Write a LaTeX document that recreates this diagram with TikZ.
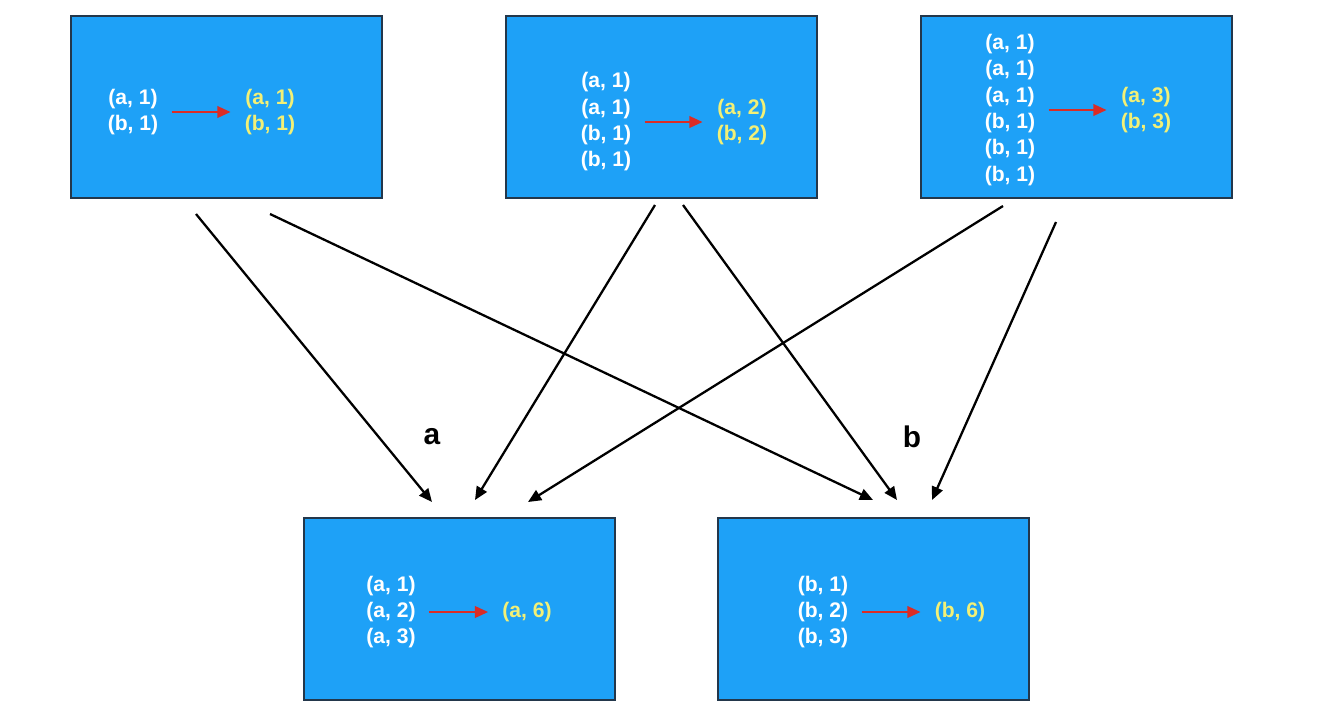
\documentclass[tikz,border=0pt]{standalone}
\usepackage{fontspec}
\setmainfont{Liberation Sans}
\usetikzlibrary{arrows.meta}
\definecolor{boxblue}{RGB}{30,161,247}
\definecolor{boxline}{RGB}{35,55,75}
\definecolor{sumyellow}{RGB}{242,240,118}
\definecolor{arrowred}{RGB}{218,44,38}

\begin{document}
\begin{tikzpicture}[x=0.02cm,y=-0.02cm,>={Triangle[length=7.5pt,width=6.5pt]},
        block/.style={draw=boxline, line width=0.9pt, fill=boxblue, rectangle, minimum width=6.22cm, minimum height=3.64cm, inner sep=0},
        pairs/.style={text=white, font=\fontsize{12}{15}\selectfont\bfseries, align=center, inner sep=0},
        sums/.style={pairs, text=sumyellow},
        reduce/.style={->, draw=arrowred, line width=1.3pt, shorten <=7.4pt, shorten >=7.9pt},
        shuffle/.style={->, line width=1.3pt}]
        \useasboundingbox (0,0) rectangle (1338,714);

        \node (b1) [block] at (226.5,107) {};
        \node (b2) [block] at (661.5,107) {};
        \node (b3) [block] at (1076.5,107) {};
        \node (b4) [block] at (459.5,609) {};
        \node (b5) [block] at (873.5,609) {};

        \node (b1l) [pairs] at (133,112) {(a, 1)\\(b, 1)};
        \node (b1r) [sums] at (270,112) {(a, 1)\\(b, 1)};
        \node (b2l) [pairs] at (606,122) {(a, 1)\\(a, 1)\\(b, 1)\\(b, 1)};
        \node (b2r) [sums] at (742,122) {(a, 2)\\(b, 2)};
        \node (b3l) [pairs] at (1010,110) {(a, 1)\\(a, 1)\\(a, 1)\\(b, 1)\\(b, 1)\\(b, 1)};
        \node (b3r) [sums] at (1146,110) {(a, 3)\\(b, 3)};
        \node (b4l) [pairs] at (391,612) {(a, 1)\\(a, 2)\\(a, 3)};
        \node (b4r) [sums] at (527,612) {(a, 6)};
        \node (b5l) [pairs] at (823,612) {(b, 1)\\(b, 2)\\(b, 3)};
        \node (b5r) [sums] at (960,612) {(b, 6)};

        \draw[reduce] (b1l) -- (b1r);
        \draw[reduce] (b2l) -- (b2r);
        \draw[reduce] (b3l) -- (b3r);
        \draw[reduce] (b4l) -- (b4r);
        \draw[reduce] (b5l) -- (b5r);

        \node (keya) [font=\fontsize{17}{20}\selectfont\bfseries] at (432,437) {a};
        \node (keyb) [font=\fontsize{17}{20}\selectfont\bfseries] at (912,437) {b};

        \coordinate (out1a) at (196,214);
        \coordinate (out1b) at (270,214);
        \coordinate (out2a) at (655,205);
        \coordinate (out2b) at (683,205);
        \coordinate (out3a) at (1003,206);
        \coordinate (out3b) at (1056,222);
        \coordinate (in4a) at (432,502);
        \coordinate (in4b) at (475,500);
        \coordinate (in4c) at (528,502);
        \coordinate (in5a) at (873,500);
        \coordinate (in5b) at (897,500);
        \coordinate (in5c) at (932,500);

        \draw[shuffle] (out1a) -- (in4a);
        \draw[shuffle] (out1b) -- (in5a);
        \draw[shuffle] (out2a) -- (in4b);
        \draw[shuffle] (out2b) -- (in5b);
        \draw[shuffle] (out3a) -- (in4c);
        \draw[shuffle] (out3b) -- (in5c);
    \end{tikzpicture}
\end{document}
